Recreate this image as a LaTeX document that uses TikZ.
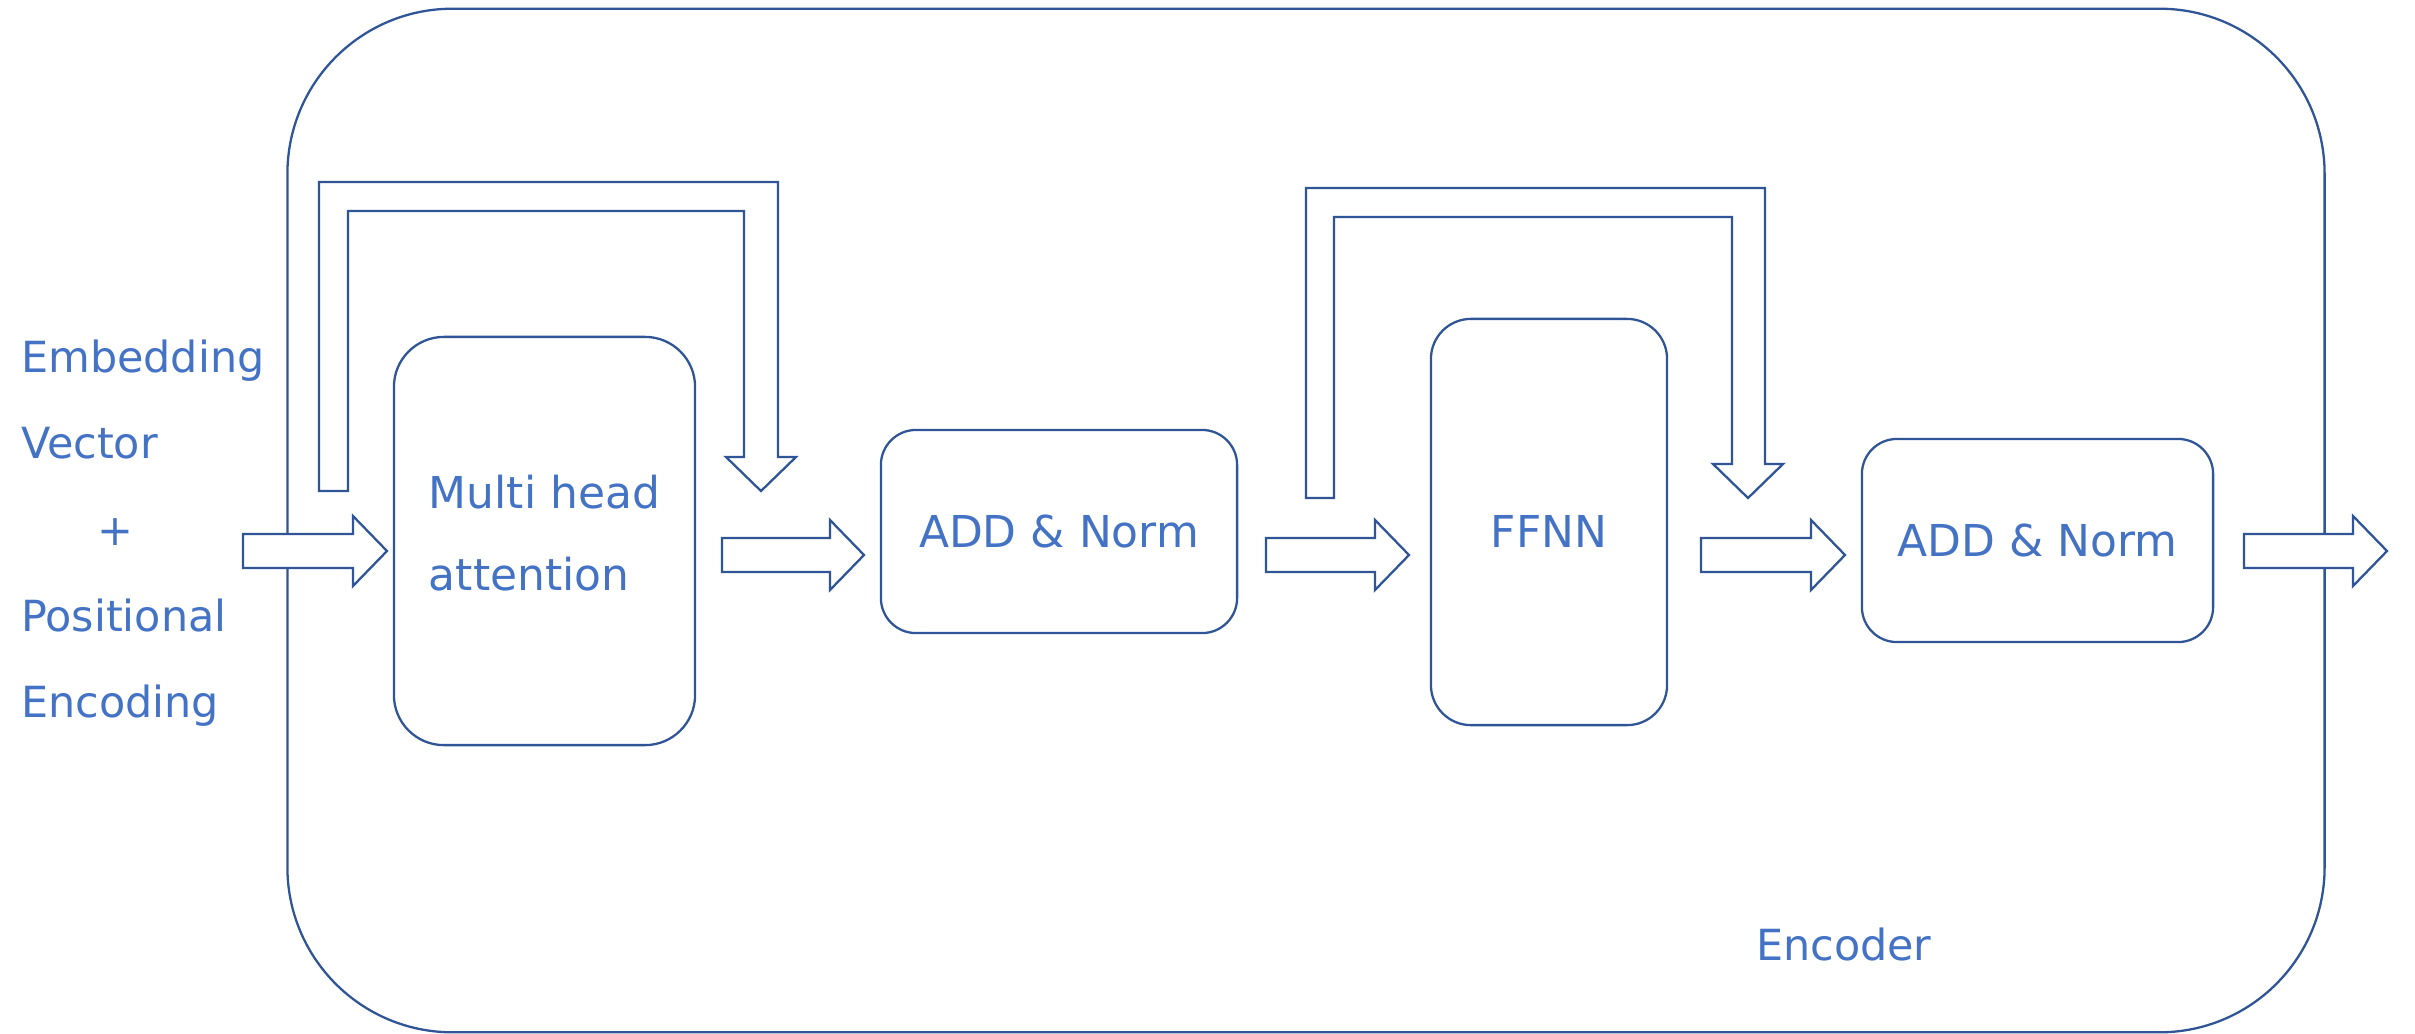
\documentclass[tikz,border=0pt]{standalone}
\usepackage{fontspec}
\setmainfont{DejaVu Sans}
\definecolor{edgeblue}{HTML}{2F5597}
\definecolor{wordblue}{HTML}{4472C4}

\begin{document}
\begin{tikzpicture}[x=0.01cm, y=-0.01cm, line width=0.65pt,
	frame node/.style={draw=edgeblue, rounded corners=1.65cm, inner sep=0pt},
	block node/.style={draw=edgeblue, rounded corners=#1, inner sep=0pt, text=wordblue, align=left, font=\fontsize{12.5}{23.3}\selectfont},
	block node/.default=0.35cm,
	word node/.style={inner sep=0pt, text=wordblue, align=left, font=\fontsize{12.2}{24.5}\selectfont},
	arrow path/.style={draw=edgeblue, fill=white, line join=miter}]
	\useasboundingbox (0,0) rectangle (2415,1033);
	\node[frame node, minimum width=20.36cm, minimum height=10.23cm] (encoder) at (1306,520.5) {};
	\node[block node=0.5cm, minimum width=3.01cm, minimum height=4.08cm] (mha) at (544.5,541) {Multi head\\attention\rule[-0.16cm]{0pt}{0pt}};
	\node[block node, minimum width=3.56cm, minimum height=2.03cm] (add1) at (1059,531.5) {ADD \& Norm};
	\node[block node=0.4cm, minimum width=2.36cm, minimum height=4.06cm] (ffnn) at (1549,522) {\rule{0pt}{0.5cm}FFNN};
	\node[block node, minimum width=3.51cm, minimum height=2.03cm] (add2) at (2037.5,540.5) {ADD \& Norm};
	\node[word node, anchor=north west] (embed) at (20,339) {Embedding\\Vector\\\hspace*{0.76cm}+\\Positional\\Encoding};
	\node[word node, anchor=base west] (enclabel) at (1755,960) {Encoder};
	\foreach \s/\t/\c in {243/387/551, 722/864/555, 1266/1409/555, 1701/1845/555, 2244/2387/551}
		\draw[arrow path] (\s,\c-17) -- (\t-34,\c-17) -- (\t-34,\c-35) -- (\t,\c) -- (\t-34,\c+35) -- (\t-34,\c+17) -- (\s,\c+17) -- cycle;
	\draw[arrow path] (319,491) -- (319,182) -- (778,182) -- (778,457) -- (796,457) -- (761,491) -- (726,457) -- (744,457) -- (744,211) -- (348,211) -- (348,491) -- cycle;
	\draw[arrow path] (1306,498) -- (1306,188) -- (1765,188) -- (1765,464) -- (1783,464) -- (1748,498) -- (1713,464) -- (1732,464) -- (1732,217) -- (1334,217) -- (1334,498) -- cycle;
\end{tikzpicture}
\end{document}
